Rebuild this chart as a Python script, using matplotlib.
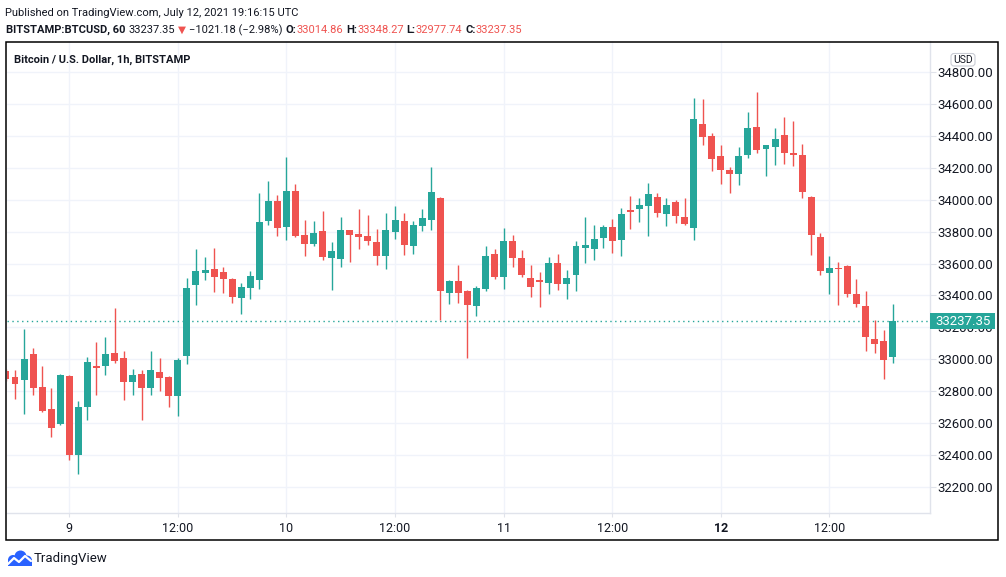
import numpy as np
import matplotlib
matplotlib.use('Agg')
import matplotlib.pyplot as plt
from matplotlib.patches import Rectangle, FancyBboxPatch, Circle
from matplotlib.transforms import blended_transform_factory

plt.rcParams['font.family'] = ['Roboto', 'DejaVu Sans']

# BTCUSD 1h candles, July 8 17:00 -> July 12 19:00 UTC
opens = [32927, 32890, 32867, 33033, 32827, 32690, 32592, 32896, 32398, 32698,
         32958, 32960, 33040, 33008, 32860, 32908, 32817, 32921, 32890, 32773,
         33023, 33467, 33542, 33565, 33546, 33502, 33385, 33448, 33498, 33867,
         33990, 33829, 34052, 33777, 33723, 33802, 33635, 33629, 33808, 33783,
         33771, 33733, 33648, 33798, 33865, 33710, 33835, 33873, 34008, 33417,
         33490, 33429, 33335, 33442, 33660, 33517, 33742, 33633, 33508, 33496,
         33479, 33602, 33473, 33529, 33698, 33692, 33760, 33827, 33748, 33933,
         33940, 33958, 34015, 33908, 33983, 33890, 33823, 34477, 34396, 34271,
         34183, 34160, 34279, 34458, 34317, 34329, 34402, 34290, 34277, 34015,
         33765, 33542, 33569, 33583, 33408, 33333, 33127, 33115, 33014.86]
highs = [32940, 32933, 33190, 33071, 32958, 32821, 32908, 32902, 32740, 33015,
         33108, 33140, 33321, 33052, 32940, 32933, 33052, 33008, 32895, 33008,
         33508, 33690, 33640, 33696, 33577, 33510, 33477, 33552, 34040, 34115,
         34027, 34265, 34096, 33871, 33865, 33927, 33733, 33890, 33812, 33940,
         33902, 33815, 33915, 33958, 33915, 33865, 33940, 34202, 34015, 33495,
         33590, 33435, 33460, 33710, 33692, 33823, 33779, 33683, 33590, 33546,
         33640, 33658, 33558, 33740, 33890, 33840, 33840, 33877, 33946, 34021,
         34008, 34102, 34040, 34008, 33996, 34008, 34640, 34633, 34415, 34340,
         34204, 34327, 34552, 34677, 34342, 34446, 34515, 34490, 34346, 34020,
         33792, 33646, 33608, 33590, 33502, 33427, 33246, 33183, 33348.27]
lows = [32865, 32748, 32660, 32779, 32670, 32510, 32590, 32367, 32279, 32617,
        32779, 32904, 32979, 32742, 32779, 32617, 32779, 32804, 32698, 32642,
        32973, 33342, 33498, 33423, 33417, 33354, 33285, 33379, 33442, 33842,
        33773, 33748, 33767, 33648, 33710, 33623, 33435, 33579, 33610, 33692,
        33717, 33592, 33567, 33754, 33654, 33660, 33804, 33810, 33248, 33348,
        33354, 33010, 33273, 33429, 33504, 33442, 33579, 33517, 33392, 33329,
        33410, 33435, 33379, 33429, 33604, 33623, 33698, 33667, 33648, 33817,
        33860, 33773, 33890, 33833, 33852, 33840, 33748, 34342, 34179, 34098,
        34042, 34092, 34260, 34292, 34148, 34217, 34223, 34210, 34008, 33654,
        33529, 33410, 33342, 33392, 33329, 33054, 33042, 32879, 32977.74]
closes = [32879, 32842, 33002, 32817, 32679, 32567, 32902, 32398, 32702, 32983,
          32948, 33033, 32992, 32860, 32902, 32823, 32933, 32885, 32767, 32996,
          33446, 33552, 33558, 33517, 33504, 33392, 33452, 33521, 33858, 33990,
          33823, 34052, 33773, 33723, 33790, 33642, 33677, 33808, 33779, 33767,
          33742, 33648, 33808, 33871, 33717, 33840, 33883, 34046, 33429, 33490,
          33417, 33342, 33448, 33648, 33517, 33742, 33635, 33529, 33454, 33481,
          33602, 33473, 33508, 33708, 33715, 33752, 33827, 33742, 33908, 33921,
          33965, 34033, 33915, 33965, 33896, 33846, 34508, 34392, 34254, 34185,
          34160, 34271, 34446, 34310, 34340, 34377, 34292, 34279, 34048, 33779,
          33554, 33571, 33565, 33410, 33348, 33142, 33098, 32998, 33237.35]

# time axis: candle index of each label
tick_idx = [7, 19, 31, 43, 55, 67, 79, 91]
tick_labels = ['9', '12:00', '10', '12:00', '11', '12:00', '12', '12:00']
price_ticks = list(range(32200, 34801, 200))

UP = '#26a69a'
DOWN = '#ef5350'
TXT = '#131722'
GRID = '#f0f3fa'
AXLINE = '#e0e3eb'

W, H = 1006, 577
fig = plt.figure(figsize=(W / 100, H / 100), dpi=100)
fig.patch.set_facecolor('white')
renderer = fig.canvas.get_renderer()


def px_box(l, t, r, b):
    return [l / W, 1 - b / H, (r - l) / W, (b - t) / H]


ax = fig.add_axes(px_box(7, 41, 929.5, 512.5))

o = np.array(opens)
hi = np.array(highs)
lo = np.array(lows)
c = np.array(closes)
x = np.arange(len(o))
cols = np.where(c >= o, UP, DOWN)

ax.vlines(x, lo, hi, colors=cols, lw=1, zorder=3)
ax.bar(x, np.maximum(np.abs(c - o), 6), bottom=np.minimum(o, c), width=0.77,
       color=cols, linewidth=0, zorder=4)

ax.set_xlim(0.115, 102.07)
ax.set_ylim(32040, 34994)

ax.set_yticks(price_ticks)
ax.set_yticklabels(['%.2f' % p for p in price_ticks])
ax.set_xticks(tick_idx)
ax.set_xticklabels(tick_labels)
ax.get_xticklabels()[6].set_fontweight('bold')
ax.yaxis.tick_right()
ax.grid(True, color=GRID, lw=1, zorder=0)
ax.tick_params(axis='y', length=4, color=AXLINE, labelcolor=TXT, labelsize=9.5, pad=2)
ax.tick_params(axis='x', length=3, color=AXLINE, labelcolor=TXT, labelsize=9, pad=3.5)
for s in ['left', 'top']:
    ax.spines[s].set_visible(False)
for s in ['right', 'bottom']:
    ax.spines[s].set_color(AXLINE)
    ax.spines[s].set_linewidth(1)

# last price line and label
last = closes[-1]
ax.axhline(last, color=UP, lw=1, ls=(0, (1, 2.5)), zorder=2)
tr = blended_transform_factory(ax.transAxes, ax.transData)
ax.add_patch(Rectangle((1.0, last - 50), 65 / 922.5, 100, transform=tr,
                       fc=UP, ec='none', clip_on=False, zorder=6))
ax.text(1.0 + 34 / 922.5, last, '%.2f' % last, transform=tr, ha='center', va='center',
        color='white', fontsize=9.5, zorder=7, clip_on=False)

ax.text(7 / 922.5, 1 - 19 / 471.5, 'Bitcoin / U.S. Dollar, 1h, BITSTAMP', transform=ax.transAxes,
        ha='left', va='center', fontsize=8, fontweight='bold', color=TXT)

# overlay in pixel coordinates for header, frame and footer
ov = fig.add_axes([0, 0, 1, 1], zorder=10)
ov.set_xlim(0, W)
ov.set_ylim(H, 0)
ov.axis('off')
ov.patch.set_alpha(0)

ov.add_patch(Rectangle((6.5, 41.5), 992, 498.5, fill=False, ec='black', lw=1.1))

ov.add_patch(FancyBboxPatch((951, 53.5), 24, 12.5, boxstyle='round,pad=0,rounding_size=3',
                            fc='white', ec='#c9ccd4', lw=0.8))
ov.text(963, 60, 'USD', ha='center', va='center', fontsize=7.5, color=TXT)

ov.text(5, 13, 'Published on TradingView.com, July 12, 2021 19:16:15 UTC',
        ha='left', va='center', fontsize=8, color=TXT)

# header line 2: fragments placed one after another
y2 = 30
fs = 8
frags = [('BITSTAMP:BTCUSD, 60', 'bold', TXT, 6),
         ('33237.35', 'normal', TXT, 121),
         ('\u25bc', 'normal', DOWN, 166),
         ('\u22121021.18 (\u22122.98%)', 'normal', TXT, 180)]
for lab, val, xl in [('O:', opens[-1], 272), ('H:', highs[-1], 333),
                     ('L:', lows[-1], 393), ('C:', closes[-1], 448)]:
    frags.append((lab, 'bold', TXT, xl))
    frags.append(('%.2f' % val, 'normal', DOWN, xl + 10))
prev_end = 0
for s, wt, col, xt in frags:
    gap = 0 if prev_end == 0 else 3
    xs = max(xt, prev_end + gap)
    kw = {'family': 'DejaVu Sans', 'fontsize': 7.5} if s == '\u25bc' else {'fontsize': fs}
    t = ov.text(xs, y2, s, ha='left', va='center', fontweight=wt, color=col, **kw)
    bb = t.get_window_extent(renderer=renderer)
    prev_end = bb.x1
    if s.endswith(':'):
        prev_end -= 3

# footer logo
blue = '#2962ff'
ov.add_patch(Circle((13, 560), 5, fc=blue, ec='none'))
ov.add_patch(Circle((20.5, 556.5), 6, fc=blue, ec='none'))
ov.add_patch(Circle((27, 560.5), 5, fc=blue, ec='none'))
ov.add_patch(Rectangle((8, 559), 24, 6.5, fc=blue, ec='none'))
ov.plot([8, 14, 19, 25, 31], [564, 558, 562, 556, 561], color='white', lw=1.6,
        solid_joinstyle='round', solid_capstyle='round')
ov.text(34, 558.5, 'TradingView', ha='left', va='center', fontsize=9.5, color=TXT)

fig.savefig('out.png', dpi=100, facecolor='white')
